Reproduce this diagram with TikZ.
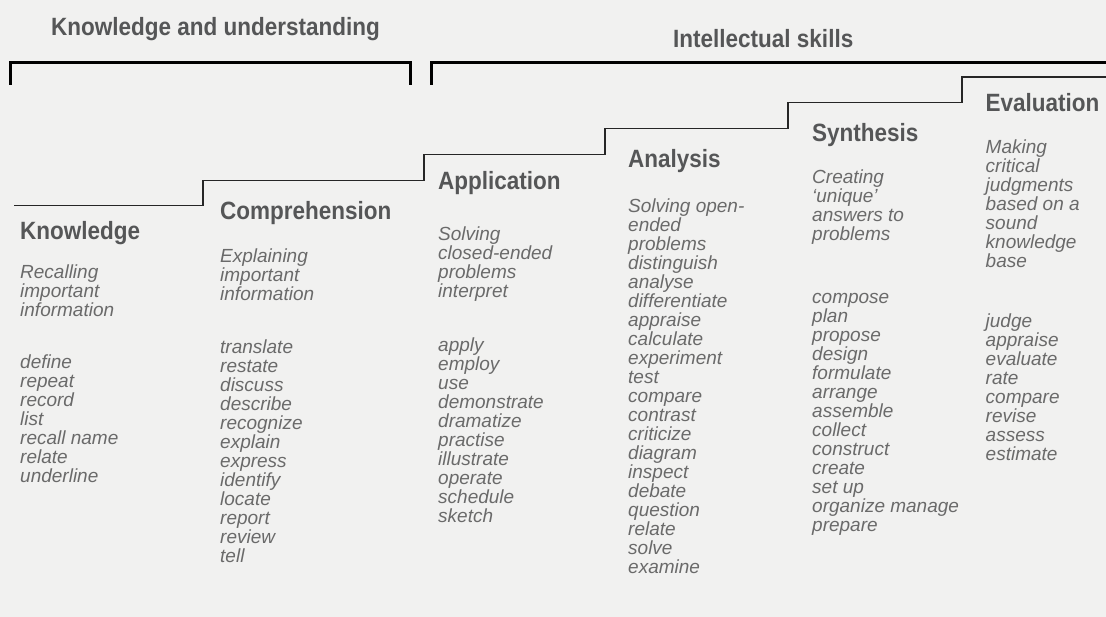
\documentclass[tikz,border=0pt]{standalone}
\usepackage{fontspec}
\setmainfont{Liberation Sans}
\newfontfamily\headfont{Liberation Sans}[FakeStretch=0.9]
\definecolor{bg}{HTML}{F1F1F0}
\definecolor{headc}{HTML}{555657}
\definecolor{itemc}{HTML}{6A6A6A}
\tikzset{
  head/.style={anchor=base west, inner sep=0pt, text=headc, font=\headfont\fontsize{25}{25}\selectfont\bfseries},
  item/.style={anchor=base west, inner sep=0pt, text=itemc, font=\fontsize{19}{19}\selectfont\itshape},
  bracket/.style={line width=3pt, black, line join=miter},
  stair/.style={line width=1.6pt, black!85}
}
\begin{document}
\begin{tikzpicture}[x=1pt, y=-1pt]
\useasboundingbox (0,0) rectangle (1106,617);
\fill[bg] (0,0) rectangle (1106,617);

% group titles and brackets
\node[head] (tku) at (51,35.7) {Knowledge and understanding};
\node[head] (tis) at (673,48) {Intellectual skills};
\draw[bracket] (10,85) -- (10,63) -- (410,63) -- (410,85);
\draw[bracket] (431,85) -- (431,63) -- (1106,63);

% staircase
\draw[stair] (14,205.5) -| (203,180.5) -| (424,154.5) -| (605,128.5) -| (788,102.5) -| (962,77) -- (1106,77);

% headings
\node[head] (hkn) at (20,239.3) {Knowledge};
\node[head] (hco) at (220,220) {Comprehension};
\node[head] (hap) at (438,190) {Application};
\node[head] (han) at (628,167.3) {Analysis};
\node[head] (hsy) at (812,141.7) {Synthesis};
\node[head] (hev) at (985.5,111.7) {Evaluation};

% Knowledge
\foreach \t [count=\i from 0] in {Recalling,important,information}
  \node[item] (kd\i) at (20,{279+19*\i}) {\t};
\foreach \t [count=\i from 0] in {define,repeat,record,list,recall name,relate,underline}
  \node[item] (kv\i) at (20,{368.7+19*\i}) {\t};

% Comprehension
\foreach \t [count=\i from 0] in {Explaining,important,information}
  \node[item] (cd\i) at (220,{262.7+19*\i}) {\t};
\foreach \t [count=\i from 0] in {translate,restate,discuss,describe,recognize,explain,express,identify,locate,report,review,tell}
  \node[item] (cv\i) at (220,{353.3+19*\i}) {\t};

% Application
\foreach \t [count=\i from 0] in {Solving,closed-ended,problems,interpret}
  \node[item] (ad\i) at (438,{241+19*\i}) {\t};
\foreach \t [count=\i from 0] in {apply,employ,use,demonstrate,dramatize,practise,illustrate,operate,schedule,sketch}
  \node[item] (av\i) at (438,{351.3+19*\i}) {\t};

% Analysis
\foreach \t [count=\i from 0] in {Solving open-,ended,problems,distinguish,analyse,differentiate,appraise,calculate,experiment,test,compare,contrast,criticize,diagram,inspect,debate,question,relate,solve,examine}
  \node[item] (nv\i) at (628,{212.7+19*\i}) {\t};

% Synthesis
\foreach \t [count=\i from 0] in {Creating,‘unique’,answers to,problems}
  \node[item] (sd\i) at (812,{183.3+19*\i}) {\t};
\foreach \t [count=\i from 0] in {compose,plan,propose,design,formulate,arrange,assemble,collect,construct,create,set up,organize manage,prepare}
  \node[item] (sv\i) at (812,{303.7+19*\i}) {\t};

% Evaluation
\foreach \t [count=\i from 0] in {Making,critical,judgments,based on a,sound,knowledge,base}
  \node[item] (ed\i) at (985.5,{154+19*\i}) {\t};
\foreach \t [count=\i from 0] in {judge,appraise,evaluate,rate,compare,revise,assess,estimate}
  \node[item] (ev\i) at (985.5,{327.7+19*\i}) {\t};
\end{tikzpicture}
\end{document}
